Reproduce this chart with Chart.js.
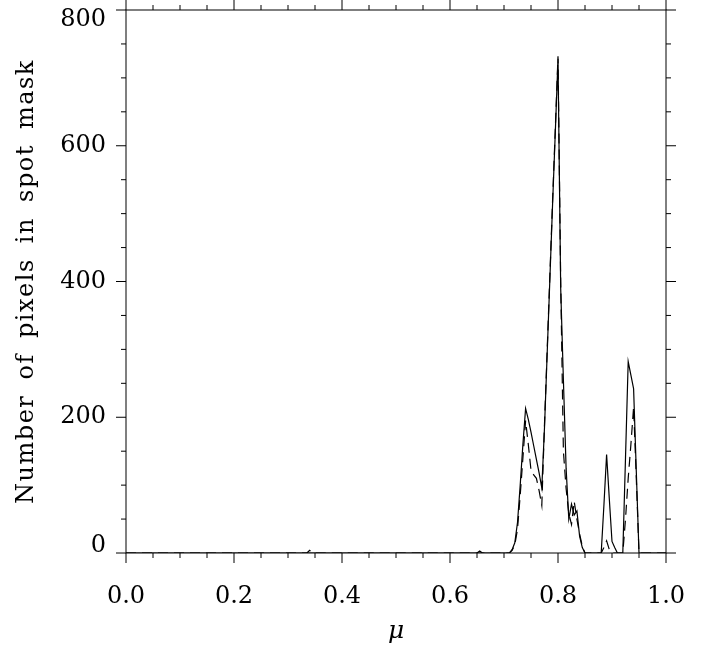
<!DOCTYPE html>
<html>
<head>
<meta charset="utf-8">
<script src="https://cdn.jsdelivr.net/npm/chart.js@4.4.1/dist/chart.umd.min.js"></script>
<style>
  html, body { margin: 0; padding: 0; background: #fff; }
  canvas { display: block; }
</style>
</head>
<body>
<canvas id="spotChart" width="712" height="646"></canvas>
<script>
// mu sample positions, shared by both curves
const muValues = [
  0.00, 0.335, 0.34, 0.345, 0.65, 0.655, 0.66,
  0.70, 0.705, 0.71, 0.715, 0.72, 0.725, 0.73, 0.735, 0.74, 0.745,
  0.75, 0.755, 0.76, 0.765, 0.77, 0.775, 0.78, 0.785, 0.79, 0.795,
  0.80, 0.805, 0.81, 0.815, 0.82, 0.825, 0.83, 0.835, 0.84, 0.845,
  0.85, 0.855, 0.875, 0.88, 0.885, 0.89, 0.895, 0.90, 0.905, 0.91,
  0.92, 0.925, 0.93, 0.935, 0.94, 0.945, 0.95, 0.955, 1.00
];

// solid curve
const pixelsSolid = [
  0, 0, 0, 0, 0, 0, 0,
  0, 0, 0, 5, 15, 45, 100, 160, 213, 197,
  178, 158, 138, 118, 96, 185, 295, 405, 515, 620,
  728, 390, 255, 125, 50, 72, 56, 62, 25, 8,
  0, 0, 0, 0, 70, 145, 80, 17, 8, 0,
  0, 140, 282, 262, 242, 120, 0, 0, 0
];

// dashed curve
const pixelsDashed = [
  0, 0, 4, 0, 0, 3, 0,
  0, 0, 0, 4, 12, 35, 85, 140, 195, 160,
  122, 115, 110, 92, 70, 190, 300, 410, 520, 625,
  732, 400, 150, 95, 58, 42, 76, 50, 28, 10,
  0, 0, 0, 0, 8, 18, 5, 0, 0, 0,
  0, 50, 110, 160, 215, 110, 0, 0, 0
];

const xTickLabels = ['0.0', '0.2', '0.4', '0.6', '0.8', '1.0'];
const yTickLabels = ['0', '200', '400', '600', '800'];
const yTitle = 'Number of pixels in spot mask';

const FONT_FAMILY = '"DejaVu Serif", "Liberation Serif", serif';

function toPoints(xs, ys) {
  return xs.map((x, i) => ({ x: x, y: ys[i] }));
}

// Frame round the plot, outward tick marks on all four sides, spaced y title
const frameTicks = {
  id: 'frameTicks',
  afterDraw(chart) {
    const { ctx, chartArea: a } = chart;
    const xs = chart.scales.x;
    const ys = chart.scales.y;
    ctx.save();
    ctx.strokeStyle = '#000';
    ctx.lineWidth = 1;
    ctx.strokeRect(a.left, a.top, a.right - a.left, a.bottom - a.top);
    ctx.beginPath();
    for (let i = 0; i <= 20; i++) {
      const len = i % 4 === 0 ? 10 : 5;
      const px = xs.getPixelForValue(i * 0.05);
      ctx.moveTo(px, a.bottom);
      ctx.lineTo(px, a.bottom + len);
      ctx.moveTo(px, a.top);
      ctx.lineTo(px, a.top - len);
    }
    for (let i = 0; i <= 16; i++) {
      const len = i % 4 === 0 ? 10 : 5;
      const py = ys.getPixelForValue(i * 50);
      ctx.moveTo(a.left, py);
      ctx.lineTo(a.left - len, py);
      ctx.moveTo(a.right, py);
      ctx.lineTo(a.right + len, py);
    }
    ctx.stroke();

    // y axis title, drawn here so it can get wider letter spacing
    ctx.translate(33, (a.top + a.bottom) / 2);
    ctx.rotate(-Math.PI / 2);
    ctx.font = '24px ' + FONT_FAMILY;
    ctx.fillStyle = '#000';
    ctx.textAlign = 'center';
    ctx.textBaseline = 'alphabetic';
    ctx.letterSpacing = '1.5px';
    ctx.wordSpacing = '6px';
    ctx.fillText(yTitle, 0, 0);
    ctx.restore();
  }
};

const canvas = document.getElementById('spotChart');
const chart = new Chart(canvas.getContext('2d'), {
  type: 'line',
  data: {
    datasets: [
      {
        data: toPoints(muValues, pixelsDashed),
        borderColor: '#000',
        borderWidth: 1.2,
        borderDash: [10, 6],
        pointRadius: 0,
        tension: 0,
        fill: false
      },
      {
        data: toPoints(muValues, pixelsSolid),
        borderColor: '#000',
        borderWidth: 1.2,
        pointRadius: 0,
        tension: 0,
        fill: false
      }
    ]
  },
  options: {
    responsive: false,
    animation: false,
    devicePixelRatio: 1,
    layout: { padding: { top: 10, right: 46, left: 0, bottom: 0 } },
    plugins: {
      legend: { display: false },
      tooltip: { enabled: false }
    },
    scales: {
      x: {
        type: 'linear',
        min: 0,
        max: 1,
        grid: { display: false, drawTicks: false },
        border: { display: false },
        ticks: {
          stepSize: 0.2,
          padding: 29,
          color: '#000',
          maxRotation: 0,
          font: { family: FONT_FAMILY, size: 24 },
          callback: (value, index) => xTickLabels[index]
        },
        title: {
          display: true,
          text: 'μ',
          color: '#000',
          padding: { top: 0, bottom: 0 },
          font: { family: FONT_FAMILY, size: 25, style: 'italic' }
        },
        afterFit(scale) {
          scale.height = 93;
          scale.paddingLeft = 0;
          scale.paddingRight = 0;
        }
      },
      y: {
        type: 'linear',
        min: 0,
        max: 800,
        grid: { display: false, drawTicks: false },
        border: { display: false },
        ticks: {
          stepSize: 200,
          padding: 20,
          color: '#000',
          font: (ctx) => ({
            family: FONT_FAMILY,
            size: 24,
            lineHeight: ctx.index === 0 ? '14px' : ctx.index === 4 ? '20px' : 1.2
          }),
          callback: (value, index) => {
            const label = yTickLabels[index];
            if (index === 0) return [label, ''];
            if (index === yTickLabels.length - 1) return ['', label];
            return label;
          }
        },
        title: { display: false },
        afterFit(scale) {
          scale.width = 126;
          scale.paddingTop = 0;
          scale.paddingBottom = 0;
        }
      }
    }
  },
  plugins: [frameTicks]
});
</script>
</body>
</html>
